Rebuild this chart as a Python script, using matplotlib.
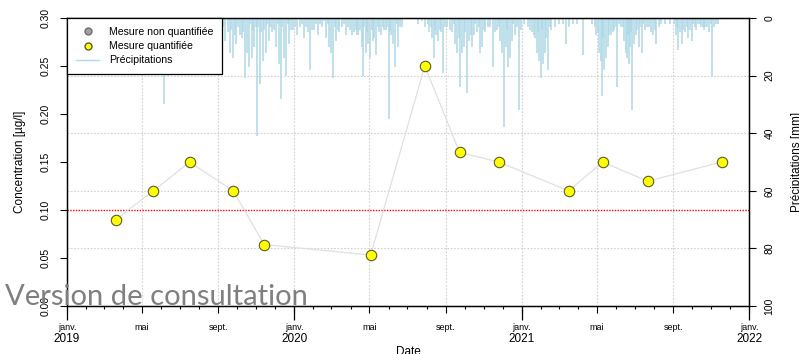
import matplotlib
matplotlib.use("Agg")
import matplotlib.pyplot as plt
import matplotlib.dates as mdates
from matplotlib.lines import Line2D
from matplotlib.ticker import FuncFormatter
import pandas as pd

plt.rcParams['font.family'] = ['Liberation Sans', 'DejaVu Sans']

# Concentration measurements (all quantified)
sample_dates = ["2019-03-20", "2019-05-20", "2019-07-17", "2019-09-25", "2019-11-14",
                "2020-05-03", "2020-07-29", "2020-09-23", "2020-11-25",
                "2021-03-17", "2021-05-11", "2021-07-22", "2021-11-18"]
concentration = [0.09, 0.12, 0.15, 0.12, 0.064, 0.053, 0.25, 0.16, 0.15,
                 0.12, 0.15, 0.13, 0.15]
threshold = 0.10

# Daily precipitation (days counted from the start date, mm)
precip_start = "2019-01-01"
precip_day = [53, 69, 93, 117, 133, 156, 162, 174, 190, 206, 214, 230,
              249, 254, 262, 267, 272, 278, 286, 289, 292, 297, 301, 305, 310, 315,
              320, 325, 329, 336, 341, 344, 349, 352, 357, 363, 370, 374, 381, 387,
              390, 397, 403, 410, 416, 421, 424, 427, 432, 437, 442, 448,
              458, 464, 468, 474, 476, 480, 484, 487, 492, 497, 501, 508, 513, 517,
              521, 524, 527, 532, 538, 564, 575, 582, 587, 590, 593, 596, 599, 604,
              611, 619, 624, 627, 632, 635, 638, 643, 646, 651, 654, 659, 664,
              667, 672, 677, 685, 691, 696, 699, 702, 705, 709, 712, 715, 720, 726,
              730, 741, 747, 752, 755, 759, 762, 765, 768, 773, 778, 784, 797, 802,
              807, 813, 829, 844, 850, 855, 858, 860, 863, 866, 869, 874, 879, 884,
              890, 895, 898, 900, 903, 905, 908, 911, 914, 919, 924, 929, 935, 938,
              942, 947, 951, 961, 969, 979, 982, 985, 988, 993, 998, 1001, 1004,
              1009, 1014, 1019, 1024, 1028, 1032, 1037, 1040, 1046,
              251, 258, 264, 270, 275, 281, 283, 294, 299, 303,
              307, 312, 317, 322, 327, 333, 339, 346, 355, 360,
              366, 378, 384, 394, 400, 406, 413, 419, 430, 435,
              445, 451, 455, 461, 466, 471, 478, 482, 490, 494,
              499, 504, 510, 515, 519, 530, 535, 570, 580, 585,
              591, 601, 607, 615, 622, 630, 640, 649, 656, 662,
              670, 680, 688, 694, 707, 717, 723, 735, 744, 750,
              757, 764, 770, 776, 790, 820, 848, 853, 862, 871,
              877, 882, 887, 893, 901, 907, 916, 921, 926, 932,
              945, 955, 975, 980, 990, 996, 1006, 1011, 1017, 1022,
              1026, 1035, 1043]
precip_mm = [8, 15, 12, 10, 18, 30, 20, 12, 9, 19, 10, 6,
             4, 8, 12, 14, 9, 6, 21, 12, 17, 14, 10, 41, 23, 15,
             12, 8, 5, 10, 16, 28, 14, 20, 9, 4, 6, 3, 7, 5,
             18, 4, 6, 3, 7, 10, 12, 21, 8, 5, 3, 6,
             6, 4, 6, 10, 20, 12, 9, 14, 8, 13, 5, 3, 4, 35,
             6, 9, 17, 10, 3, 2, 3, 5, 7, 14, 6, 8, 4, 19,
             3, 5, 9, 12, 24, 12, 10, 26, 8, 10, 6, 5, 12,
             10, 5, 3, 17, 4, 8, 12, 38, 10, 17, 14, 8, 6, 32,
             4, 3, 5, 7, 12, 15, 21, 16, 12, 18, 4, 3, 2, 9,
             3, 2, 13, 2, 6, 12, 15, 27, 18, 14, 10, 6, 4, 24,
             3, 8, 12, 14, 16, 10, 32, 9, 6, 10, 12, 4, 3, 5,
             6, 9, 3, 2, 2, 6, 11, 5, 9, 5, 7, 4, 8,
             3, 2, 3, 4, 3, 5, 20, 3, 2,
             3, 5, 4, 6, 3, 7, 5, 2, 4, 3,
             3, 5, 4, 2, 3, 4, 2, 3, 2, 4,
             3, 2, 3, 4, 2, 2, 1, 2, 3, 4,
             2, 3, 4, 5, 6, 4, 3, 5, 4, 7,
             3, 6, 4, 3, 5, 2, 3, 1, 2, 3,
             4, 5, 3, 4, 2, 7, 5, 6, 2, 3,
             4, 3, 5, 3, 4, 2, 3, 2, 4, 6,
             5, 4, 7, 3, 2, 2, 3, 5, 7, 6,
             5, 3, 2, 3, 6, 5, 4, 3, 2, 3,
             4, 2, 2, 3, 4, 3, 2, 4, 2, 3,
             3, 2, 2]

month_names = {1: "janv.", 5: "mai", 9: "sept."}
years = [2019, 2020, 2021, 2022]
conc_ticks = [0.00, 0.05, 0.10, 0.15, 0.20, 0.25, 0.30]
precip_ticks = [0, 20, 40, 60, 80, 100]

W, H = 799, 354
fig = plt.figure(figsize=(W / 100, H / 100), dpi=100)
ax = fig.add_axes([67 / W, 1 - 306 / H, (749 - 67) / W, (306 - 18) / H])
axp = ax.twinx()
ax.set_zorder(axp.get_zorder() + 1)
ax.patch.set_visible(False)

dates = pd.to_datetime(sample_dates)
pdates = pd.Timestamp(precip_start) + pd.to_timedelta(precip_day, unit="D")

# precipitation hanging from the top
axp.vlines(pdates, 0, precip_mm, color="#ADD8E6", lw=1.1, zorder=2)
axp.set_ylim(100, 0)
axp.set_yticks(precip_ticks)
axp.grid(axis="y", color="#D0D0D0", ls=(0, (1.5, 1.5)), lw=0.8, zorder=1)
axp.tick_params(axis="y", length=5, width=0.8, labelsize=7.5, pad=6,
                labelrotation=90)
for lbl in axp.get_yticklabels():
    lbl.set_va("center")

# concentrations
ax.axhline(threshold, color="red", ls=(0, (1, 1)), lw=1.0, zorder=2)
ax.plot(dates, concentration, color="#E0E0E0", lw=0.9, zorder=3)
ax.plot(dates, concentration, "o", mfc="yellow", mec="#5c5c2a", mew=0.8,
        ms=7.5, ls="", zorder=4)

ax.set_xlim(pd.Timestamp(f"{years[0]}-01-01"), pd.Timestamp(f"{years[-1]}-01-01"))
ax.set_ylim(conc_ticks[0], conc_ticks[-1])
ax.set_yticks(conc_ticks)
ax.set_yticklabels([f"{v:.2f}" for v in conc_ticks])
ax.tick_params(axis="y", length=5, width=0.8, labelsize=7.5, pad=7,
               labelrotation=90)
for lbl in ax.get_yticklabels():
    lbl.set_va("center")

ax.xaxis.set_major_locator(mdates.MonthLocator(bymonth=list(month_names)))
ax.xaxis.set_minor_locator(mdates.MonthLocator())
ax.xaxis.set_major_formatter(
    FuncFormatter(lambda x, pos: month_names.get(mdates.num2date(x).month, "")))
ax.tick_params(axis="x", which="major", length=5, width=0.8, labelsize=6.5, pad=7)
ax.tick_params(axis="x", which="minor", length=2.5, width=0.8)
ax.grid(axis="x", which="major", color="#D0D0D0", ls=(0, (1.5, 1.5)), lw=0.8)

# longer ticks and year labels at each January
jan = [pd.Timestamp(f"{y}-01-01") for y in years]
ax.vlines(jan, -14 / 288, 0, transform=ax.get_xaxis_transform(),
          clip_on=False, color="black", lw=0.9)
for y, d in zip(years, jan):
    ax.text(d, -33 / 288, str(y), transform=ax.get_xaxis_transform(),
            ha="center", va="center", fontsize=8.5)

for a in (ax, axp):
    for s in a.spines.values():
        s.set_linewidth(0.9)

handles = [
    Line2D([], [], marker="o", ls="", mfc="#A0A0A0", mec="#707070", ms=5),
    Line2D([], [], marker="o", ls="", mfc="yellow", mec="#5c5c2a", ms=5),
    Line2D([], [], color="#ADD8E6", lw=1.0),
]
leg = ax.legend(handles, ["Mesure non quantifiée", "Mesure quantifiée", "Précipitations"],
                loc="upper left", borderaxespad=0, fancybox=False, edgecolor="black",
                framealpha=1, fontsize=7.6, handlelength=2.2, handletextpad=0.9,
                labelspacing=0.4, borderpad=0.85)
leg.get_frame().set_linewidth(0.9)

fig.text(20 / W, 1 - 162 / H, "Concentration [µg/l]", rotation=90,
         ha="center", va="center", fontsize=8.5)
fig.text(797 / W, 1 - 162 / H, "Précipitations [mm]", rotation=90,
         ha="center", va="center", fontsize=8.5)
fig.text(408 / W, 1 - 346 / H, "Date", ha="center", va="top", fontsize=8.5)

fig.text(5 / W, 1 - 305 / H, "Version de consultation", fontsize=21,
         color="#7f7f7f", family=["Lato", "DejaVu Sans"], ha="left", va="baseline")

fig.savefig("out.png", dpi=100)
